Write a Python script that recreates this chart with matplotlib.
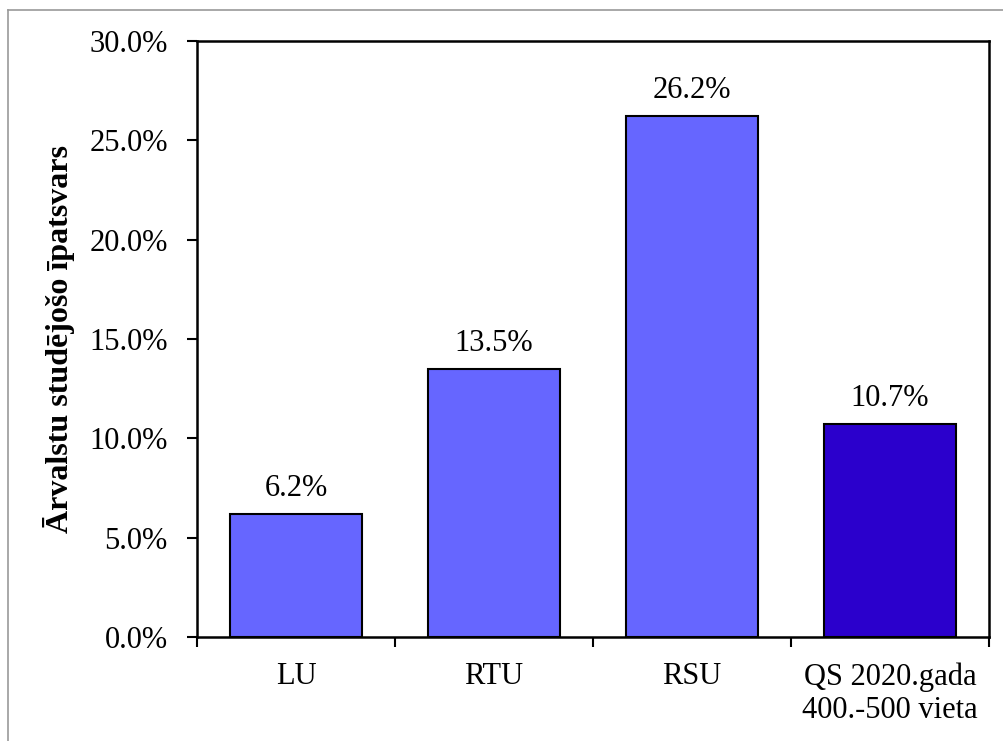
import numpy as np
import matplotlib
matplotlib.use('Agg')
import matplotlib.pyplot as plt
from matplotlib.lines import Line2D
from matplotlib.ticker import PercentFormatter, FixedLocator

# dati
kategorijas = ['LU', 'RTU', 'RSU', 'QS 2020.gada\n400.-500 vieta']
ipatsvars = [0.062, 0.135, 0.262, 0.107]
krasas = ['#6666FF', '#6666FF', '#6666FF', '#2B00CC']

plt.rcParams['font.family'] = ['Liberation Serif', 'DejaVu Serif']

W, H = 1004, 741
fig = plt.figure(figsize=(W / 100, H / 100), dpi=100)
ax = fig.add_axes([197 / W, (H - 637) / H, (989 - 197) / W, (637 - 41) / H])

x = np.arange(len(kategorijas))
bars = ax.bar(x, ipatsvars, width=0.667, color=krasas, edgecolor='black', linewidth=1.5)

for b, v in zip(bars, ipatsvars):
    ax.annotate(f'{v * 100:.1f}%', (b.get_x() + b.get_width() / 2, v),
                xytext=(0, 8), textcoords='offset points',
                ha='center', va='bottom', fontsize=22)

ax.set_xlim(-0.5, len(kategorijas) - 0.5)
ax.set_ylim(0, 0.30)
ax.set_yticks(np.arange(0, 0.301, 0.05))
ax.yaxis.set_major_formatter(PercentFormatter(1.0, decimals=1))
ax.set_xticks(x)
ax.set_xticklabels(kategorijas, fontsize=22, va='top')
ax.xaxis.set_minor_locator(FixedLocator(np.arange(-0.5, len(kategorijas), 1.0)))
ax.tick_params(axis='x', which='major', length=0, pad=18)
ax.tick_params(axis='x', which='minor', length=7, width=1.5, direction='out')
ax.tick_params(axis='y', labelsize=22, length=7, width=1.5, direction='out', pad=14)
for s in ax.spines.values():
    s.set_linewidth(1.8)

ax.set_ylabel('Ārvalstu studējošo īpatsvars', fontsize=23, fontweight='bold', labelpad=10)

# pelēkā apmale
fig.add_artist(Line2D([8 / W, 8 / W], [0, 1 - 10 / H], color='#999999', linewidth=1.2))
fig.add_artist(Line2D([8 / W, 1], [1 - 10 / H, 1 - 10 / H], color='#999999', linewidth=1.2))

fig.savefig('out.png', dpi=100)
